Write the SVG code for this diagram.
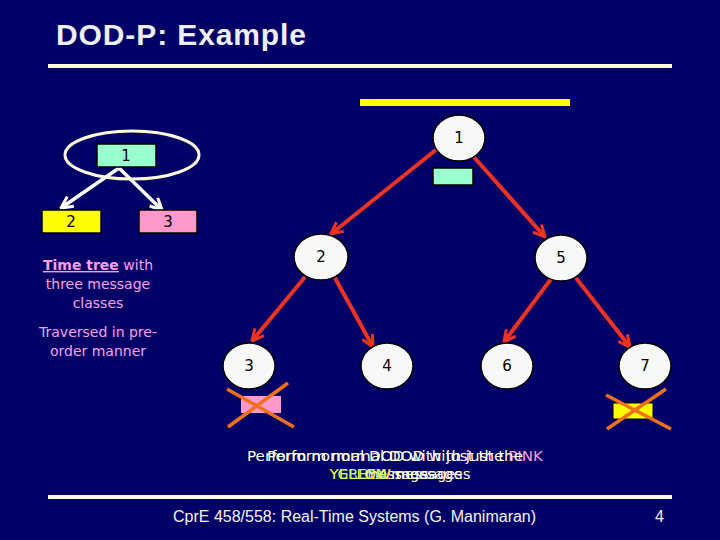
<svg xmlns="http://www.w3.org/2000/svg" width="720" height="540" viewBox="0 0 720 540">
<style>
.node ellipse{fill:#F8F8F8;stroke:#000;stroke-width:1.5}
.num{font-family:"DejaVu Sans",Verdana,sans-serif;font-size:15px;fill:#000;text-anchor:middle}
.red{stroke:#EE3322;stroke-width:4;fill:none;marker-end:url(#ah)}
.wht{stroke:#FFFFFF;stroke-width:3.5;fill:none;marker-end:url(#wh)}
.xx{stroke:#F0701E;stroke-width:3.5}
.pk{font-family:"DejaVu Sans",sans-serif;font-size:14px;fill:#FBA0E8;text-anchor:middle}
.bt{font-family:"DejaVu Sans",sans-serif;font-size:14px;fill:#FFFFE6;text-anchor:middle}
.hl{fill:#FFFBE0}
</style>
<defs>
<marker id="ah" viewBox="0 0 12 12" refX="11" refY="6" markerWidth="14" markerHeight="14" markerUnits="userSpaceOnUse" orient="auto">
<path d="M1,1 L11,6 L1,11" fill="none" stroke="#EE3322" stroke-width="2.6"/>
</marker>
<marker id="wh" viewBox="0 0 12 12" refX="11" refY="6" markerWidth="14" markerHeight="14" markerUnits="userSpaceOnUse" orient="auto">
<path d="M1,1 L11,6 L1,11" fill="none" stroke="#FFFFFF" stroke-width="2.6"/>
</marker>
</defs>
<rect width="720" height="540" fill="#000066"/>
<text x="56" y="45" font-family="'Liberation Sans',Arial,sans-serif" font-size="30" font-weight="bold" fill="#EEEEF6" textLength="250">DOD-P: Example</text>
<rect class="hl" x="48" y="64" width="624" height="4"/>
<rect class="hl" x="48" y="495" width="624" height="4"/>
<text x="173" y="522" font-family="'Liberation Sans',Arial,sans-serif" font-size="16" fill="#F4F4F8">CprE 458/558: Real-Time Systems (G. Manimaran)</text>
<text x="655" y="522" font-family="'Liberation Sans',Arial,sans-serif" font-size="16" fill="#F4F4F8">4</text>

<rect x="360" y="99" width="210" height="7" fill="#FFFF00"/>

<g id="connectors">
<line class="red" x1="437" y1="149" x2="331" y2="234"/>
<line class="red" x1="473" y1="156" x2="545" y2="237"/>
<line class="red" x1="305" y1="277" x2="252" y2="341"/>
<line class="red" x1="335" y1="278" x2="373" y2="347"/>
<line class="red" x1="551" y1="279" x2="504" y2="342"/>
<line class="red" x1="576" y1="278" x2="630" y2="347"/>
<line class="wht" x1="119" y1="168" x2="61" y2="208"/>
<line class="wht" x1="119" y1="168" x2="162" y2="210"/>
</g>

<g id="n1" class="node"><ellipse cx="459" cy="138" rx="26" ry="23"/><text class="num" x="459" y="143">1</text></g>
<g id="n2" class="node"><ellipse cx="321" cy="257" rx="27" ry="23"/><text class="num" x="321" y="262">2</text></g>
<g id="n5" class="node"><ellipse cx="561" cy="258" rx="26" ry="23"/><text class="num" x="561" y="263">5</text></g>
<g id="n3" class="node"><ellipse cx="249" cy="366" rx="26" ry="23"/><text class="num" x="249" y="371">3</text></g>
<g id="n4" class="node"><ellipse cx="387" cy="366" rx="26" ry="23"/><text class="num" x="387" y="371">4</text></g>
<g id="n6" class="node"><ellipse cx="507" cy="366" rx="26" ry="23"/><text class="num" x="507" y="371">6</text></g>
<g id="n7" class="node"><ellipse cx="645" cy="366" rx="26" ry="23"/><text class="num" x="645" y="371">7</text></g>

<g id="green-msg"><rect x="433" y="168" width="40" height="17" fill="#99FFCC" stroke="#000" stroke-width="1.5"/></g>
<g id="pink-msg">
<rect x="241" y="396" width="40" height="17" fill="#FF99CC"/>
<line class="xx" x1="227" y1="389" x2="294" y2="427"/>
<line class="xx" x1="288" y1="383" x2="228" y2="427"/>
</g>
<g id="yellow-msg">
<rect x="613" y="403" width="40" height="16" fill="#FFFF00" stroke="#000" stroke-width="1"/>
<line class="xx" x1="606" y1="395" x2="671" y2="429"/>
<line class="xx" x1="666" y1="389" x2="607" y2="429"/>
</g>

<g id="legend-tree">
<ellipse cx="132" cy="155" rx="67" ry="24" fill="none" stroke="#FFF8DC" stroke-width="3"/>
<g id="l1"><rect x="97" y="144" width="59" height="23" fill="#99FFCC" stroke="#000" stroke-width="1.5"/><text class="num" x="126" y="161" font-size="14">1</text></g>
<g id="l2"><rect x="42" y="210" width="59" height="23" fill="#FFFF00" stroke="#000" stroke-width="1.5"/><text class="num" x="71" y="227" font-size="14">2</text></g>
<g id="l3"><rect x="139" y="210" width="58" height="23" fill="#FF99CC" stroke="#000" stroke-width="1.5"/><text class="num" x="168" y="227" font-size="14">3</text></g>
</g>

<g id="left-text">
<text class="pk" x="98" y="270"><tspan font-weight="bold" text-decoration="underline">Time tree</tspan> with</text>
<text class="pk" x="98" y="289">three message</text>
<text class="pk" x="98" y="308">classes</text>
<text class="pk" x="98" y="337">Traversed in pre-</text>
<text class="pk" x="98" y="356">order manner</text>
</g>

<g id="bottom-text">
<text class="bt" x="395" y="461" textLength="296" lengthAdjust="spacingAndGlyphs">Perform normal DOD with just the <tspan fill="#FF99DD">PINK</tspan></text>
<text class="bt" x="400" y="479">messages</text>
<text class="bt" x="395" y="461" textLength="256" lengthAdjust="spacingAndGlyphs">Perform normal DOD with just the</text>
<text class="bt" x="400" y="479" textLength="141" lengthAdjust="spacingAndGlyphs"><tspan fill="#FFFF33">YELLOW</tspan> messages</text>
<text class="bt" x="400" y="479" textLength="125" lengthAdjust="spacingAndGlyphs"><tspan fill="#B8FF70">GREEN</tspan> messages</text>
</g>
</svg>
